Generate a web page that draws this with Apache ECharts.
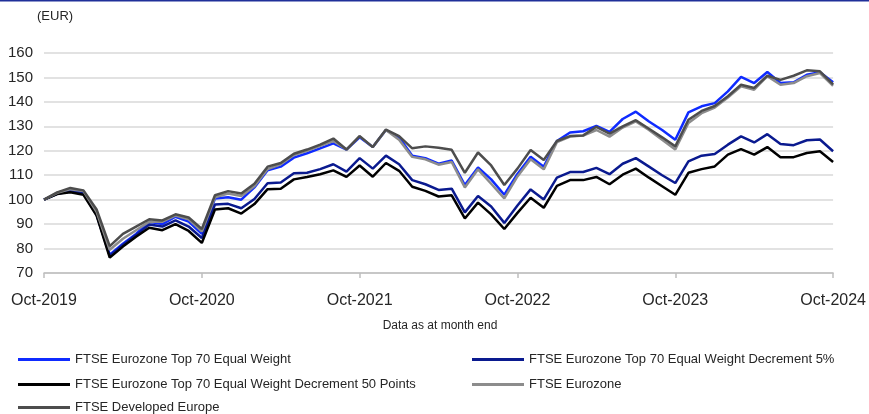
<!DOCTYPE html>
<html>
<head>
<meta charset="utf-8">
<script src="https://cdn.jsdelivr.net/npm/echarts@6/dist/echarts.min.js"></script>
<style>
html,body{margin:0;padding:0;background:#fff;}
#chart{width:869px;height:414px;}
</style>
</head>
<body>
<div id="chart"></div>
<script>
var categories = [
"Oct-2019","Nov-2019","Dec-2019","Jan-2020","Feb-2020","Mar-2020","Apr-2020","May-2020","Jun-2020","Jul-2020","Aug-2020","Sep-2020",
"Oct-2020","Nov-2020","Dec-2020","Jan-2021","Feb-2021","Mar-2021","Apr-2021","May-2021","Jun-2021","Jul-2021","Aug-2021","Sep-2021",
"Oct-2021","Nov-2021","Dec-2021","Jan-2022","Feb-2022","Mar-2022","Apr-2022","May-2022","Jun-2022","Jul-2022","Aug-2022","Sep-2022",
"Oct-2022","Nov-2022","Dec-2022","Jan-2023","Feb-2023","Mar-2023","Apr-2023","May-2023","Jun-2023","Jul-2023","Aug-2023","Sep-2023",
"Oct-2023","Nov-2023","Dec-2023","Jan-2024","Feb-2024","Mar-2024","Apr-2024","May-2024","Jun-2024","Jul-2024","Aug-2024","Sep-2024",
"Oct-2024"];

var seriesNames = [
"FTSE Eurozone Top 70 Equal Weight",
"FTSE Eurozone Top 70 Equal Weight Decrement 5%",
"FTSE Eurozone Top 70 Equal Weight Decrement 50 Points",
"FTSE Eurozone",
"FTSE Developed Europe"];

var top70EW = [100,102.5,103.5,102.8,94,77.5,82,86,91,90,93,91,
86,100.5,101,100,105,112,113.5,117.2,119,121,123,120.5,
125.5,121.5,128.5,125.5,118,117,114.7,116,106,113.2,108.3,102,
110.5,117.6,113.5,124,127.5,128,130.2,127.7,133,136,132,128.5,
124.5,135.7,138.2,139.5,144.3,150.2,147.7,152.2,147.7,148,151.1,152.1,
148];

var top70Dec5 = [100,102.4,103.3,102.5,93.8,77,81.5,85.5,89.8,89,91.5,89,
84.3,98,98.3,96.5,100.3,106.7,107,110.8,111,112.5,114.5,111.5,
117,112.7,118,114.5,108,106.3,104,104.5,94.8,101.5,97.2,90.5,
97.6,104.2,100.1,109,111.3,111.3,113,110.4,114.7,117,113.5,110,
106.8,115.7,118,118.7,122.5,125.9,123.4,126.8,122.8,122.3,124.3,124.6,
119.8];

var top70Dec50 = [100,102.3,103,102,93.5,76.3,80.8,84.8,88.5,87.5,90,87.2,
82.3,96,96.5,94.3,98.2,104.3,104.5,108.3,109.3,110.4,112,109.3,
114,109.4,115,111.8,105.3,103.6,101.3,101.8,92.3,98.8,94,88,
94.6,100.8,96.7,105.6,108,108,109.3,106.3,110.2,112.7,109,105.5,
102,111,112.5,113.6,118.4,120.7,118.4,121.5,117.4,117.4,119.1,119.8,
115.4];

var eurozone = [100,102.8,104.3,103.5,95,79.5,84,87.5,91,91,93.5,92,
87,101,102.5,101.5,105.5,112.5,114.5,118.3,120,122,124,120.5,
126,121.5,128.5,124.5,117.5,116.5,114.3,115.4,105,112.4,106.5,100.5,
109.5,116.5,112.4,123.5,125.8,126.2,128.5,125.8,129.5,132,128.5,124.5,
120.5,131.4,135.4,137.7,141.8,146.4,145,150.5,147,147.7,150.5,151.8,
146.6];

var devEurope = [100,103,104.8,103.8,96,81,86,89,92,91.5,94,92.7,
88,101.8,103.5,102.5,106.5,113.5,115,118.8,120.5,122.5,125,120.5,
126,121.5,128.7,126,121,121.8,121.2,120.4,111,119.3,114,106,
112.7,120.3,116.2,124,126,126.3,129.8,127,130,132.5,129,125.5,
121.8,132.7,136.3,138.3,142.3,147,145.7,150.7,149,150.7,152.9,152.5,
147.2];

var yTicks = {min:70, max:160, interval:10};

var colors = ["#0f2bff","#0a1a8f","#000000","#8c8c8c","#4d4d4d"];
var dataList = [top70EW, top70Dec5, top70Dec50, eurozone, devEurope];

var font = "'Liberation Sans', Arial, sans-serif";
var txt = "#262626";

var chart = echarts.init(document.getElementById('chart'), null, {renderer:'canvas'});

var series = seriesNames.map(function(n, i){
  return {
    name: n, type: 'line', data: dataList[i], showSymbol: false, symbol: 'none',
    lineStyle: {width: 2.5, color: colors[i]}, itemStyle: {color: colors[i]},
    emphasis: {disabled: true}, z: 2 + i
  };
});

function legendAt(name, left, top) {
  return {
    orient: 'horizontal', icon: 'rect', itemWidth: 52, itemHeight: 3, padding: 0,
    left: left, top: top, data: [name], selectedMode: false,
    textStyle: {fontFamily: font, fontSize: 13, color: txt}
  };
}

chart.setOption({
  animation: false,
  backgroundColor: '#ffffff',
  grid: {left: 44, right: 33, top: 53, bottom: 141, containLabel: false},
  xAxis: {
    type: 'category', data: categories, boundaryGap: false,
    axisLine: {show: true, lineStyle: {color: '#bfbfbf', width: 1.5}},
    axisTick: {show: true, interval: 11, length: 5, lineStyle: {color: '#bfbfbf', width: 1.5}},
    axisLabel: {interval: 11, fontFamily: font, fontSize: 16, color: txt, margin: 20, showMaxLabel: true, showMinLabel: true},
    splitLine: {show: false}
  },
  yAxis: {
    type: 'value', min: yTicks.min, max: yTicks.max, interval: yTicks.interval,
    axisLine: {show: false}, axisTick: {show: false},
    axisLabel: {fontFamily: font, fontSize: 15, color: txt, margin: 11},
    splitLine: {show: true, lineStyle: {color: '#d9d9d9', width: 1.5}}
  },
  legend: [
    legendAt(seriesNames[0], 18, 353),
    legendAt(seriesNames[1], 472, 353),
    legendAt(seriesNames[2], 18, 378),
    legendAt(seriesNames[3], 472, 378),
    legendAt(seriesNames[4], 18, 401)
  ],
  graphic: [
    {type: 'line', shape: {x1: 0, y1: 0.75, x2: 869, y2: 0.75}, style: {stroke: '#1f2f99', lineWidth: 1.5}},
    {type: 'text', left: 37, top: 10, style: {text: '(EUR)', fontFamily: font, fontSize: 13, fill: txt}},
    {type: 'text', x: 440, y: 326, style: {text: 'Data as at month end', fontFamily: font, fontSize: 12, fill: txt, textAlign: 'center', textVerticalAlign: 'middle'}}
  ],
  series: series
});
</script>
</body>
</html>
